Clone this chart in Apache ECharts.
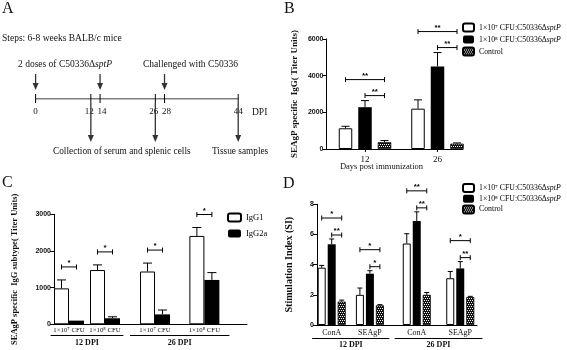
<!DOCTYPE html>
<html>
<head>
<meta charset="utf-8">
<script src="https://cdn.jsdelivr.net/npm/echarts@6/dist/echarts.min.js"></script>
<style>
html, body { margin: 0; padding: 0; background: #fff; }
#chart { width: 567px; height: 350px; }
</style>
</head>
<body>
<div id="chart"></div>
<script>
// ---- panel A: timeline (days post immunization)
const dpiTicks = [0, 12, 14, 26, 28, 44];
const doseDays = [0, 14, 28];
const sampleDays = [12, 26, 44];

// ---- panel B: SEAgP specific IgG
const groupNames = ['1×10⁷ CFU:C50336ΔsptP', '1×10⁸ CFU:C50336ΔsptP', 'Control'];
const bDays = ['12', '26'];
const bLow = [1130, 2200];
const bLowErr = [110, 480];
const bHigh = [2280, 4500];
const bHighErr = [360, 760];
const bCtrl = [370, 290];
const bCtrlErr = [90, 40];
const bSig = [[0, 0, 2, '**'], [0, 1, 2, '**'], [1, 0, 2, '**'], [1, 1, 2, '**']];

// ---- panel C: IgG subtype
const subtypes = ['IgG1', 'IgG2a'];
const cDoses = ['1×10⁷ CFU', '1×10⁸ CFU'];
const cIgG1_12 = [980, 1480];
const cIgG1Err_12 = [230, 140];
const cIgG2a_12 = [100, 165];
const cIgG2aErr_12 = [0, 40];
const cIgG1_26 = [1440, 2410];
const cIgG1Err_26 = [230, 230];
const cIgG2a_26 = [270, 1210];
const cIgG2aErr_26 = [120, 200];
const cSig = [[0, 0, 1, '*'], [1, 0, 1, '*']];

// ---- panel D: stimulation index
const dStim = ['ConA', 'SEAgP'];
const dLow12 = [3.8, 2.0];
const dLowErr12 = [0.15, 0.45];
const dHigh12 = [5.35, 3.4];
const dHighErr12 = [0.35, 0.2];
const dCtrl12 = [1.55, 1.3];
const dCtrlErr12 = [0.1, 0.05];
const dLow26 = [5.4, 3.1];
const dLowErr26 = [0.65, 0.45];
const dHigh26 = [6.9, 3.75];
const dHighErr26 = [0.6, 0.45];
const dCtrl26 = [2.0, 1.85];
const dCtrlErr26 = [0.15, 0.05];
const dSig12 = [[0, 0, 2, '*'], [0, 1, 2, '**'], [1, 0, 2, '*'], [1, 1, 2, '*']];
const dSig26 = [[0, 0, 2, '**'], [0, 1, 2, '**'], [1, 0, 2, '*'], [1, 1, 2, '**']];

const SERIF = '"Liberation Serif", "Times New Roman", serif';
const SANS = '"Liberation Sans", Arial, sans-serif';
const INK = '#111';

// checkered fill for the control bars
const pat = document.createElement('canvas');
pat.width = 4; pat.height = 4;
const pg = pat.getContext('2d');
pg.fillStyle = '#111'; pg.fillRect(0, 0, 4, 4);
pg.fillStyle = '#fff';
pg.fillRect(0, 0, 1, 1); pg.fillRect(2, 0, 1, 1); pg.fillRect(1, 2, 1, 1); pg.fillRect(3, 2, 1, 1);

const styleWhite = { color: '#fff', borderColor: '#000', borderWidth: 1 };
const styleBlack = { color: '#000' };
const styleCtrl = { color: { image: pat, repeat: 'repeat' }, borderColor: '#000', borderWidth: 0.8 };

const chart = echarts.init(document.getElementById('chart'), null, { renderer: 'canvas' });

function arrow(x, y1, y2) {
    return {
        type: 'group', children: [
            { type: 'line', shape: { x1: x, y1: y1, x2: x, y2: y2 - 6 }, style: { stroke: '#333', lineWidth: 1.3 } },
            { type: 'polygon', shape: { points: [[x - 3, y2 - 7], [x + 3, y2 - 7], [x, y2]] }, style: { fill: '#333' } }
        ]
    };
}

function grid(left, top, width, height) {
    return { left, top, width, height, containLabel: false, outerBoundsMode: 'none' };
}

function lineAxis(gi) {
    return {
        type: 'value', gridIndex: gi, min: 0, max: 1,
        axisLine: { show: true, onZero: false, lineStyle: { color: '#000', width: 1 } },
        axisTick: { show: false }, axisLabel: { show: false }, splitLine: { show: false }
    };
}

function catAxis(gi, data, size, margin, extra) {
    return Object.assign({
        type: 'category', gridIndex: gi, data: data, position: 'bottom',
        axisLine: { show: false }, axisTick: { show: false }, splitLine: { show: false },
        axisLabel: { show: true, interval: 0, hideOverlap: false, margin: margin, color: INK, fontFamily: SERIF, fontSize: size }
    }, extra || {});
}

function dpiAxis(gi, label, offset) {
    return {
        type: 'category', gridIndex: gi, data: [label], position: 'bottom', offset: offset,
        axisLine: { show: true, onZero: false, lineStyle: { color: '#000', width: 1 } },
        axisTick: { show: false }, splitLine: { show: false },
        axisLabel: { show: true, margin: 3, color: INK, fontFamily: SERIF, fontSize: 8, fontWeight: 'bold' }
    };
}

function valueAxis(gi, max, interval, name, nameGap, nameSize) {
    return {
        type: 'value', gridIndex: gi, min: 0, max: max, interval: interval,
        name: name, nameLocation: 'middle', nameGap: nameGap,
        nameTextStyle: { color: INK, fontFamily: SERIF, fontSize: nameSize, fontWeight: 'bold' },
        axisLine: { show: true, onZero: false, lineStyle: { color: '#000', width: 1 } },
        axisTick: { show: true, inside: false, length: 4, lineStyle: { color: '#000' } },
        axisLabel: { margin: 3, color: INK, fontFamily: SANS, fontSize: 7, fontWeight: 'bold', formatter: v => String(v) },
        splitLine: { show: false }
    };
}

function hiddenY(gi, max) {
    return { type: 'value', gridIndex: gi, min: 0, max: max, show: false };
}

function bars(name, ai, vals, style, w, gap) {
    return {
        type: 'bar', name: name, xAxisIndex: ai, yAxisIndex: ai, data: vals,
        barWidth: w, barGap: gap, itemStyle: style, silent: true, z: 2
    };
}

// offset of bar k (of n) from the band centre
function barOffset(k, n, w, gapPx) {
    return (k - (n - 1) / 2) * (w + gapPx);
}

function errBars(ai, vals, errs, k, n, w, gapPx, cap) {
    return {
        type: 'custom', xAxisIndex: ai, yAxisIndex: ai, silent: true, clip: false, z: 3,
        data: vals.map((v, i) => [i, v, errs[i]]),
        encode: { x: 0, y: 1 },
        renderItem: (params, api) => {
            const e = api.value(2);
            if (!e) return null;
            const base = api.coord([api.value(0), api.value(1)]);
            const top = api.coord([api.value(0), api.value(1) + e]);
            const x = base[0] + barOffset(k, n, w, gapPx);
            return {
                type: 'group', children: [
                    { type: 'line', shape: { x1: x, y1: base[1], x2: x, y2: top[1] }, style: { stroke: '#000', lineWidth: 1 } },
                    { type: 'line', shape: { x1: x - cap / 2, y1: top[1], x2: x + cap / 2, y2: top[1] }, style: { stroke: '#000', lineWidth: 1 } }
                ]
            };
        }
    };
}

// significance brackets, placed above the highest error bar they span
function sigBrackets(ai, sig, tops, n, w, gapPx, gap, extra) {
    return {
        type: 'custom', xAxisIndex: ai, yAxisIndex: ai, silent: true, clip: false, z: 4,
        data: sig.map(s => [s[0], 0]),
        encode: { x: 0, y: 1 },
        renderItem: (params, api) => {
            const s = sig[params.dataIndex];
            const g = s[0], from = s[1], to = s[2];
            let hi = 0;
            for (let k = from; k <= to; k++) hi = Math.max(hi, tops[k][g]);
            const p = api.coord([g, hi]);
            const y = p[1] - gap - (to - from > 1 ? extra : 0);
            const x1 = p[0] + barOffset(from, n, w, gapPx);
            const x2 = p[0] + barOffset(to, n, w, gapPx);
            return {
                type: 'group', children: [
                    { type: 'line', shape: { x1: x1, y1: y, x2: x2, y2: y }, style: { stroke: '#000', lineWidth: 1 } },
                    { type: 'line', shape: { x1: x1, y1: y - 2.5, x2: x1, y2: y + 2.5 }, style: { stroke: '#000', lineWidth: 1 } },
                    { type: 'line', shape: { x1: x2, y1: y - 2.5, x2: x2, y2: y + 2.5 }, style: { stroke: '#000', lineWidth: 1 } },
                    {
                        type: 'text', style: {
                            text: s[3], x: (x1 + x2) / 2, y: y - 4, textAlign: 'center', textVerticalAlign: 'middle',
                            font: 'bold 8px ' + SANS, fill: '#000'
                        }
                    }
                ]
            };
        }
    };
}

const sumArr = (a, b) => a.map((v, i) => v + b[i]);

function legend(names, left, top, iw, ih, gap, size) {
    return {
        data: names, orient: 'vertical', left: left, top: top, padding: 0,
        itemWidth: iw, itemHeight: ih, itemGap: gap, selectedMode: false,
        formatter: n => n.replace('ΔsptP', 'Δ{i|sptP}'),
        textStyle: {
            color: '#000', fontFamily: SERIF, fontSize: size,
            rich: { i: { fontStyle: 'italic', fontFamily: SERIF, fontSize: size, color: '#000' } }
        }
    };
}

const wB = 13.5, gB = 6, wC = 15, wD = 8, gD = 2;

const option = {
    backgroundColor: '#fff',
    animation: false,
    grid: [
        grid(35.6, 49, 202.6, 50),      // 0 A timeline
        grid(326.5, 39, 136.5, 110),    // 1 B frame
        grid(328.75, 39, 145, 110),     // 2 B bars
        grid(54, 214.3, 193, 110),      // 3 C frame
        grid(51, 214.3, 72, 110),       // 4 C 12 DPI
        grid(130.35, 214.3, 98.7, 110), // 5 C 26 DPI
        grid(317, 204.3, 160, 120.7),   // 6 D frame
        grid(312.6, 204.3, 76.4, 120.7),// 7 D 12 DPI
        grid(395, 204.3, 87, 120.7)     // 8 D 26 DPI
    ],
    xAxis: [
        { type: 'value', gridIndex: 0, min: dpiTicks[0], max: dpiTicks[dpiTicks.length - 1], show: false },
        lineAxis(1),
        catAxis(2, bDays, 9, 6, {
            axisTick: { show: true, alignWithLabel: true, length: 3, lineStyle: { color: '#000' } }
        }),
        lineAxis(3),
        catAxis(4, cDoses, 6.8, 2),
        catAxis(5, cDoses, 6.8, 2),
        lineAxis(6),
        catAxis(7, dStim, 8, 4),
        catAxis(8, dStim, 8, 4),
        dpiAxis(4, '12 DPI', 11.4),
        dpiAxis(5, '26 DPI', 11.4),
        dpiAxis(7, '12 DPI', 13.3),
        dpiAxis(8, '26 DPI', 13.3)
    ],
    yAxis: [
        { type: 'value', gridIndex: 0, min: 0, max: 1, show: false },
        valueAxis(1, 6000, 2000, 'SEAgP specific  IgG( Titer Units)', 27, 9),
        hiddenY(2, 6000),
        valueAxis(3, 3000, 1000, 'SEAgP specific  IgG subtype( Titer Units)', 35, 8.5),
        hiddenY(4, 3000),
        hiddenY(5, 3000),
        valueAxis(6, 8, 2, 'Stimulation Index (SI)', 23, 10),
        hiddenY(7, 8),
        hiddenY(8, 8)
    ],
    legend: [
        legend(groupNames, 462, 22.5, 11, 8, 3, 7.8),
        legend(subtypes, 227, 212.5, 13, 8, 6.5, 8.5),
        legend(groupNames, 462, 183, 11, 8, 1.7, 7.8)
    ],
    graphic: [
        { type: 'text', left: 2, top: 1, style: { text: 'A', font: '16px ' + SERIF, fill: INK } },
        { type: 'text', left: 284, top: 1, style: { text: 'B', font: '16px ' + SERIF, fill: INK } },
        { type: 'text', left: 2, top: 175, style: { text: 'C', font: '16px ' + SERIF, fill: INK } },
        { type: 'text', left: 283, top: 176, style: { text: 'D', font: '16px ' + SERIF, fill: INK } },
        { type: 'text', x: 2, y: 38, style: { text: 'Steps: 6-8 weeks BALB/c mice', font: '9.5px ' + SERIF, fill: INK, textVerticalAlign: 'middle' } },
        {
            type: 'text', x: 18, y: 64, style: {
                text: '2 doses of C50336Δ{i|sptP}', font: '9.5px ' + SERIF, fill: INK, textVerticalAlign: 'middle',
                rich: { i: { fontStyle: 'italic', fontFamily: SERIF, fontSize: 9.5, color: INK } }
            }
        },
        { type: 'text', x: 143, y: 64, style: { text: 'Challenged with C50336', font: '9.5px ' + SERIF, fill: INK, textVerticalAlign: 'middle' } },
        { type: 'text', x: 53, y: 152, style: { text: 'Collection of serum and splenic cells', font: '9.3px ' + SERIF, fill: INK, textVerticalAlign: 'middle' } },
        { type: 'text', x: 212, y: 152, style: { text: 'Tissue samples', font: '9.3px ' + SERIF, fill: INK, textVerticalAlign: 'middle' } },
        { type: 'text', x: 252, y: 112, style: { text: 'DPI', font: '9.5px ' + SERIF, fill: INK, textVerticalAlign: 'middle' } },
        { type: 'text', x: 381.5, y: 167, style: { text: 'Days post immunization', font: '8.5px ' + SERIF, fill: INK, textAlign: 'center', textVerticalAlign: 'middle' } }
    ],
    series: [
        // A
        {
            type: 'line', xAxisIndex: 0, yAxisIndex: 0, silent: true, symbol: 'none',
            data: [[dpiTicks[0], 0], [dpiTicks[dpiTicks.length - 1], 0]],
            lineStyle: { color: '#000', width: 1.2 }
        },
        {
            type: 'custom', xAxisIndex: 0, yAxisIndex: 0, silent: true, clip: false,
            data: dpiTicks.map(d => [d, 0]), encode: { x: 0, y: 1 },
            renderItem: (params, api) => {
                const i = params.dataIndex;
                const p = api.coord([dpiTicks[i], 0]);
                // push crowded neighbouring labels apart a little
                let dx = 0;
                if (i > 0 && p[0] - api.coord([dpiTicks[i - 1], 0])[0] < 12) dx += 2;
                if (i < dpiTicks.length - 1 && api.coord([dpiTicks[i + 1], 0])[0] - p[0] < 12) dx -= 1.5;
                return {
                    type: 'group', children: [
                        { type: 'line', shape: { x1: p[0], y1: p[1] - 5, x2: p[0], y2: p[1] + 4 }, style: { stroke: '#000', lineWidth: 1 } },
                        {
                            type: 'text', style: {
                                text: String(dpiTicks[i]), x: p[0] + dx, y: p[1] + 13, textAlign: 'center', textVerticalAlign: 'middle',
                                font: '9px ' + SERIF, fill: INK
                            }
                        }
                    ]
                };
            }
        },
        {
            type: 'custom', xAxisIndex: 0, yAxisIndex: 0, silent: true, clip: false,
            data: doseDays.map(d => [d, 0]), encode: { x: 0, y: 1 },
            renderItem: (params, api) => {
                const p = api.coord([api.value(0), 0]);
                return arrow(p[0], p[1] - 25, p[1] - 9);
            }
        },
        {
            type: 'custom', xAxisIndex: 0, yAxisIndex: 0, silent: true, clip: false,
            data: sampleDays.map(d => [d, 0]), encode: { x: 0, y: 1 },
            renderItem: (params, api) => {
                const p = api.coord([api.value(0), 0]);
                return arrow(p[0], p[1] + 4, p[1] + 43);
            }
        },
        // B
        bars(groupNames[0], 2, bLow, styleWhite, wB, (gB / wB * 100) + '%'),
        bars(groupNames[1], 2, bHigh, styleBlack, wB, (gB / wB * 100) + '%'),
        bars(groupNames[2], 2, bCtrl, styleCtrl, wB, (gB / wB * 100) + '%'),
        errBars(2, bLow, bLowErr, 0, 3, wB, gB, 8),
        errBars(2, bHigh, bHighErr, 1, 3, wB, gB, 8),
        errBars(2, bCtrl, bCtrlErr, 2, 3, wB, gB, 8),
        sigBrackets(2, bSig, [sumArr(bLow, bLowErr), sumArr(bHigh, bHighErr), sumArr(bCtrl, bCtrlErr)], 3, wB, gB, 5, 16),
        // C 12 DPI
        bars(subtypes[0], 4, cIgG1_12, styleWhite, wC, 0),
        bars(subtypes[1], 4, cIgG2a_12, styleBlack, wC, 0),
        errBars(4, cIgG1_12, cIgG1Err_12, 0, 2, wC, 0, 9),
        errBars(4, cIgG2a_12, cIgG2aErr_12, 1, 2, wC, 0, 9),
        sigBrackets(4, cSig, [sumArr(cIgG1_12, cIgG1Err_12), sumArr(cIgG2a_12, cIgG2aErr_12)], 2, wC, 0, 13, 0),
        // C 26 DPI
        bars(subtypes[0], 5, cIgG1_26, styleWhite, wC, 0),
        bars(subtypes[1], 5, cIgG2a_26, styleBlack, wC, 0),
        errBars(5, cIgG1_26, cIgG1Err_26, 0, 2, wC, 0, 9),
        errBars(5, cIgG2a_26, cIgG2aErr_26, 1, 2, wC, 0, 9),
        sigBrackets(5, cSig, [sumArr(cIgG1_26, cIgG1Err_26), sumArr(cIgG2a_26, cIgG2aErr_26)], 2, wC, 0, 13, 0),
        // D 12 DPI
        bars(groupNames[0], 7, dLow12, styleWhite, wD, '25%'),
        bars(groupNames[1], 7, dHigh12, styleBlack, wD, '25%'),
        bars(groupNames[2], 7, dCtrl12, styleCtrl, wD, '25%'),
        errBars(7, dLow12, dLowErr12, 0, 3, wD, gD, 5),
        errBars(7, dHigh12, dHighErr12, 1, 3, wD, gD, 5),
        errBars(7, dCtrl12, dCtrlErr12, 2, 3, wD, gD, 5),
        sigBrackets(7, dSig12, [sumArr(dLow12, dLowErr12), sumArr(dHigh12, dHighErr12), sumArr(dCtrl12, dCtrlErr12)], 3, wD, gD, 4, 17),
        // D 26 DPI
        bars(groupNames[0], 8, dLow26, styleWhite, wD, '25%'),
        bars(groupNames[1], 8, dHigh26, styleBlack, wD, '25%'),
        bars(groupNames[2], 8, dCtrl26, styleCtrl, wD, '25%'),
        errBars(8, dLow26, dLowErr26, 0, 3, wD, gD, 5),
        errBars(8, dHigh26, dHighErr26, 1, 3, wD, gD, 5),
        errBars(8, dCtrl26, dCtrlErr26, 2, 3, wD, gD, 5),
        sigBrackets(8, dSig26, [sumArr(dLow26, dLowErr26), sumArr(dHigh26, dHighErr26), sumArr(dCtrl26, dCtrlErr26)], 3, wD, gD, 4, 17)
    ]
};

chart.setOption(option);
</script>
</body>
</html>
